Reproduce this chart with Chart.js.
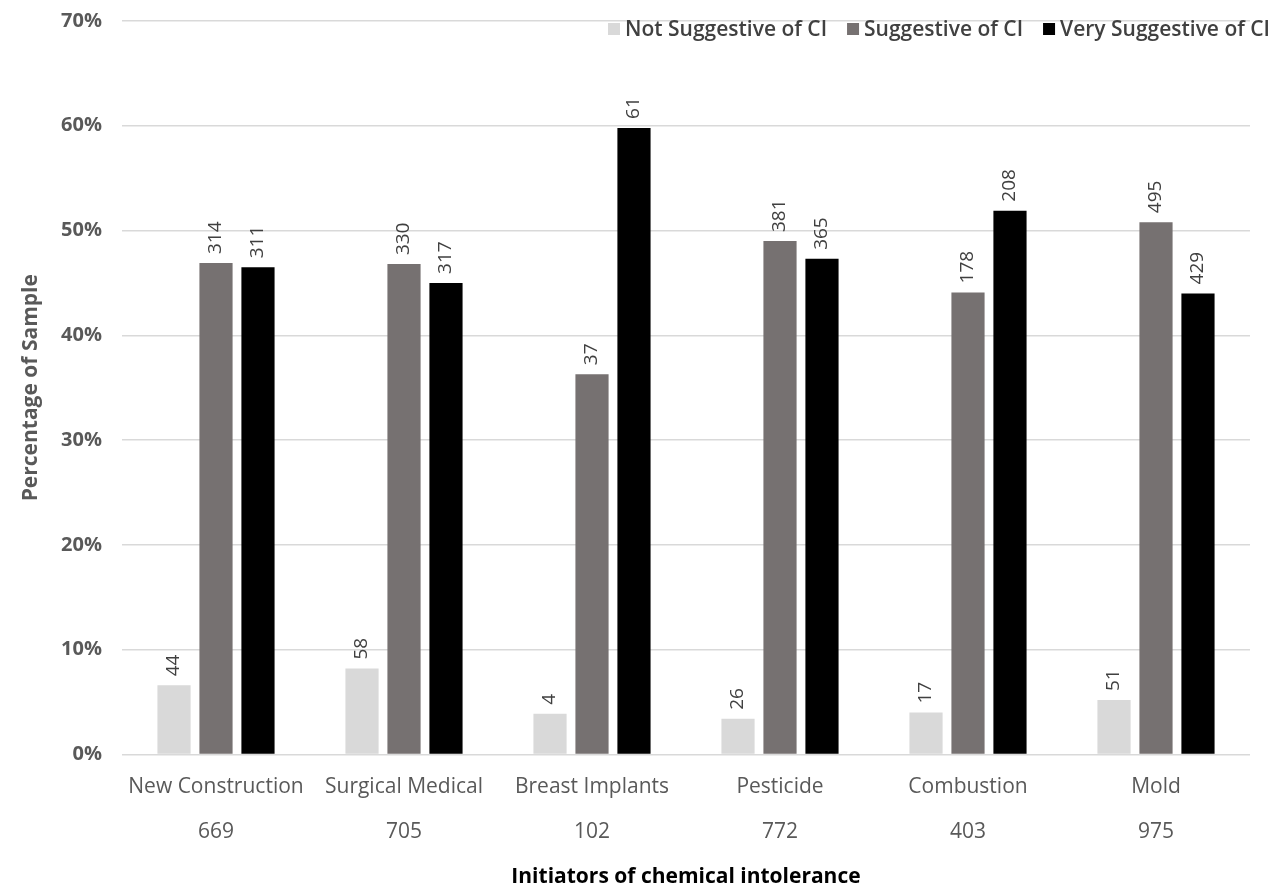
<!DOCTYPE html>
<html>
<head>
<meta charset="utf-8">
<script src="https://cdn.jsdelivr.net/npm/chart.js@4.4.1/dist/chart.umd.min.js"></script>
<style>
  html, body { margin: 0; padding: 0; background: #ffffff; }
  #wrap { width: 1276px; height: 887px; position: relative; }
</style>
</head>
<body>
<div id="wrap"><canvas id="chart" width="1276" height="887"></canvas></div>
<script>
// Initiators of chemical intolerance, with group totals
const categories = ['New Construction', 'Surgical Medical', 'Breast Implants', 'Pesticide', 'Combustion', 'Mold'];
const totals = [669, 705, 102, 772, 403, 975];

// Percentage of sample in each group
const notSuggestivePct  = [6.6, 8.2, 3.9, 3.4, 4.0, 5.2];
const suggestivePct     = [46.9, 46.8, 36.3, 49.0, 44.1, 50.8];
const verySuggestivePct = [46.5, 45.0, 59.8, 47.3, 51.9, 44.0];

// Respondent counts shown above the bars
const notSuggestiveN  = [44, 58, 4, 26, 17, 51];
const suggestiveN     = [314, 330, 37, 381, 178, 495];
const verySuggestiveN = [311, 317, 61, 365, 208, 429];

const yTicks = [0, 10, 20, 30, 40, 50, 60, 70];

const tickLabels = categories.map((c, i) => [c, String(totals[i])]);

// Rotated count labels above each bar
const countLabels = {
  id: 'countLabels',
  afterDatasetsDraw(chart) {
    const ctx = chart.ctx;
    ctx.save();
    ctx.font = '19px "Open Sans", sans-serif';
    ctx.fillStyle = '#404040';
    ctx.textAlign = 'left';
    ctx.textBaseline = 'middle';
    chart.data.datasets.forEach((ds, di) => {
      const meta = chart.getDatasetMeta(di);
      meta.data.forEach((bar, i) => {
        ctx.save();
        ctx.translate(bar.x, bar.y - 9);
        ctx.rotate(-Math.PI / 2);
        ctx.fillText(String(ds.counts[i]), 0, 0);
        ctx.restore();
      });
    });
    ctx.restore();
  }
};

// Legend row in the top-right corner
const topLegend = {
  id: 'topLegend',
  afterDraw(chart) {
    const ctx = chart.ctx;
    ctx.save();
    ctx.font = '600 21px "Open Sans", sans-serif';
    ctx.textBaseline = 'middle';
    ctx.textAlign = 'left';
    const box = 12, gapBox = 5, gapItem = 20, yMid = 29;
    const items = chart.data.datasets.map(ds => ({ label: ds.label, color: ds.backgroundColor }));
    let total = 0;
    items.forEach((it, k) => {
      it.w = ctx.measureText(it.label).width;
      total += box + gapBox + it.w + (k < items.length - 1 ? gapItem : 0);
    });
    let x = 1270 - total;
    items.forEach(it => {
      ctx.fillStyle = it.color;
      ctx.fillRect(x, yMid - box / 2, box, box);
      x += box + gapBox;
      ctx.fillStyle = '#404040';
      ctx.fillText(it.label, x, yMid + 1);
      x += it.w + gapItem;
    });
    ctx.restore();
  }
};

new Chart(document.getElementById('chart'), {
  type: 'bar',
  data: {
    labels: tickLabels,
    datasets: [
      { label: 'Not Suggestive of CI', data: notSuggestivePct, counts: notSuggestiveN, backgroundColor: '#d9d9d9' },
      { label: 'Suggestive of CI', data: suggestivePct, counts: suggestiveN, backgroundColor: '#767171' },
      { label: 'Very Suggestive of CI', data: verySuggestivePct, counts: verySuggestiveN, backgroundColor: '#000000' }
    ]
  },
  options: {
    responsive: false,
    animation: false,
    devicePixelRatio: 1,
    layout: { padding: { top: 21, right: 26, bottom: -3, left: 0 } },
    datasets: { bar: { categoryPercentage: 0.67, barPercentage: 0.79 } },
    plugins: {
      legend: { display: false },
      tooltip: { enabled: false }
    },
    scales: {
      x: {
        grid: { display: false, drawTicks: false },
        border: { display: false },
        ticks: {
          color: '#595959',
          font: { family: '"Open Sans", sans-serif', size: 21, lineHeight: 2.15 },
          padding: 10,
          maxRotation: 0,
          autoSkip: false
        },
        title: {
          display: true,
          text: 'Initiators of chemical intolerance',
          color: '#000000',
          font: { family: '"Open Sans", sans-serif', size: 21, weight: 'bold' },
          padding: { top: 0, bottom: 0 }
        }
      },
      y: {
        min: 0,
        max: 70,
        afterFit(scale) {
          scale.width = 122;
          scale.paddingTop = 0;
          scale.paddingBottom = 0;
        },
        afterBuildTicks(scale) { scale.ticks = yTicks.map(v => ({ value: v })); },
        grid: { color: '#d9d9d9', lineWidth: 1.5, drawTicks: false },
        border: { display: false },
        ticks: {
          color: '#595959',
          font: { family: '"Open Sans", sans-serif', size: 20, weight: 'bold' },
          padding: 20,
          callback: v => v + '%'
        },
        title: {
          display: true,
          text: 'Percentage of Sample',
          color: '#595959',
          font: { family: '"Open Sans", sans-serif', size: 21, weight: 'bold' },
          padding: { top: 18, bottom: 4 }
        }
      }
    }
  },
  plugins: [countLabels, topLegend]
});
</script>
</body>
</html>
